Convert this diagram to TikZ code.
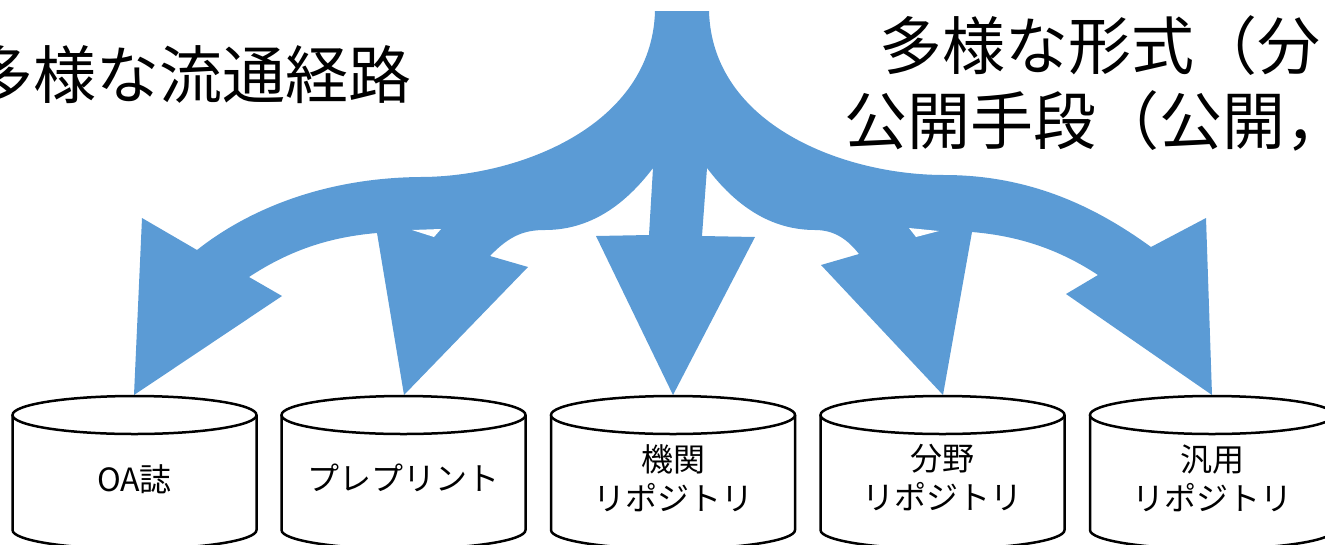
\documentclass[tikz,border=0pt]{standalone}
\usepackage{fontspec}
\newfontfamily\jp{Noto Sans CJK JP}
\definecolor{flowblue}{RGB}{91,155,213}
\tikzset{
  flow/.style={fill=flowblue, draw=none},
  hole/.style={fill=white, draw=none},
  cylline/.style={draw=black, line width=2.5pt, fill=white},
  title/.style={font=\jp\fontsize{63}{76}\selectfont, inner sep=0pt, text=black},
  lab/.style={font=\jp\fontsize{32}{39}\selectfont, inner sep=0pt, align=center, text=black},
}
\begin{document}
\begin{tikzpicture}[x=1pt,y=-1pt]
\useasboundingbox (0,0) rectangle (1325,544);
\clip (0,0) rectangle (1325,544);

% titles
\node[title, anchor=base west] (t1) at (-30,98) {多様な流通経路};
\node[title, anchor=base west] (t2) at (879,69) {多様な形式（分};
\node[title, anchor=base west] (t3) at (844,144) {公開手段（公開，};

% branching block arrow
\fill[flow] (655,11)
 .. controls (652,125) and (520,177) .. (420,177)
 .. controls (320,178) and (245,212) .. (197,250)
 -- (142,218) -- (134,395) -- (282,296) -- (249,277)
 .. controls (290,250) and (330,237) .. (377,233)
 -- (404,395) -- (528,267) -- (490,256)
 .. controls (510,235) and (525,230) .. (545,230)
 .. controls (590,230) and (625,205) .. (653,168)
 -- (649,235) -- (596,236) -- (673,395) -- (755,237) -- (702,236) -- (707,168)
 .. controls (735,205) and (770,230) .. (815,230)
 .. controls (835,230) and (848,240) .. (859,254)
 -- (821,265) -- (943,395) -- (972,232)
 .. controls (1020,236) and (1060,250) .. (1098,275)
 -- (1066,294) -- (1212,395) -- (1206,218) -- (1151,247)
 .. controls (1100,210) and (1034,175) .. (944,175)
 .. controls (844,175) and (712,125) .. (709,11) -- cycle;
\fill[hole] (412,230) -- (441,229) -- (434,237) -- cycle;
\fill[hole] (909,228) -- (939,231) -- (916,237) -- cycle;

% cylinders
\foreach \cx in {134.5,403.5,673,942.5,1212}{
  \draw[cylline] (\cx-122,415) -- (\cx-122,530)
    arc[start angle=180, end angle=0, x radius=122, y radius=19]
    -- (\cx+122,415);
  \draw[cylline] (\cx,415) ellipse [x radius=122, y radius=19];
}

% labels
\node[lab] (c1) at (134.5,479) {OA誌};
\node[lab] (c2) at (403.5,478) {プレプリント};
\node[lab] (c3) at (673,478) {機関\\リポジトリ};
\node[lab] (c4) at (942.5,478) {分野\\リポジトリ};
\node[lab] (c5) at (1212,478) {汎用\\リポジトリ};
\end{tikzpicture}
\end{document}
